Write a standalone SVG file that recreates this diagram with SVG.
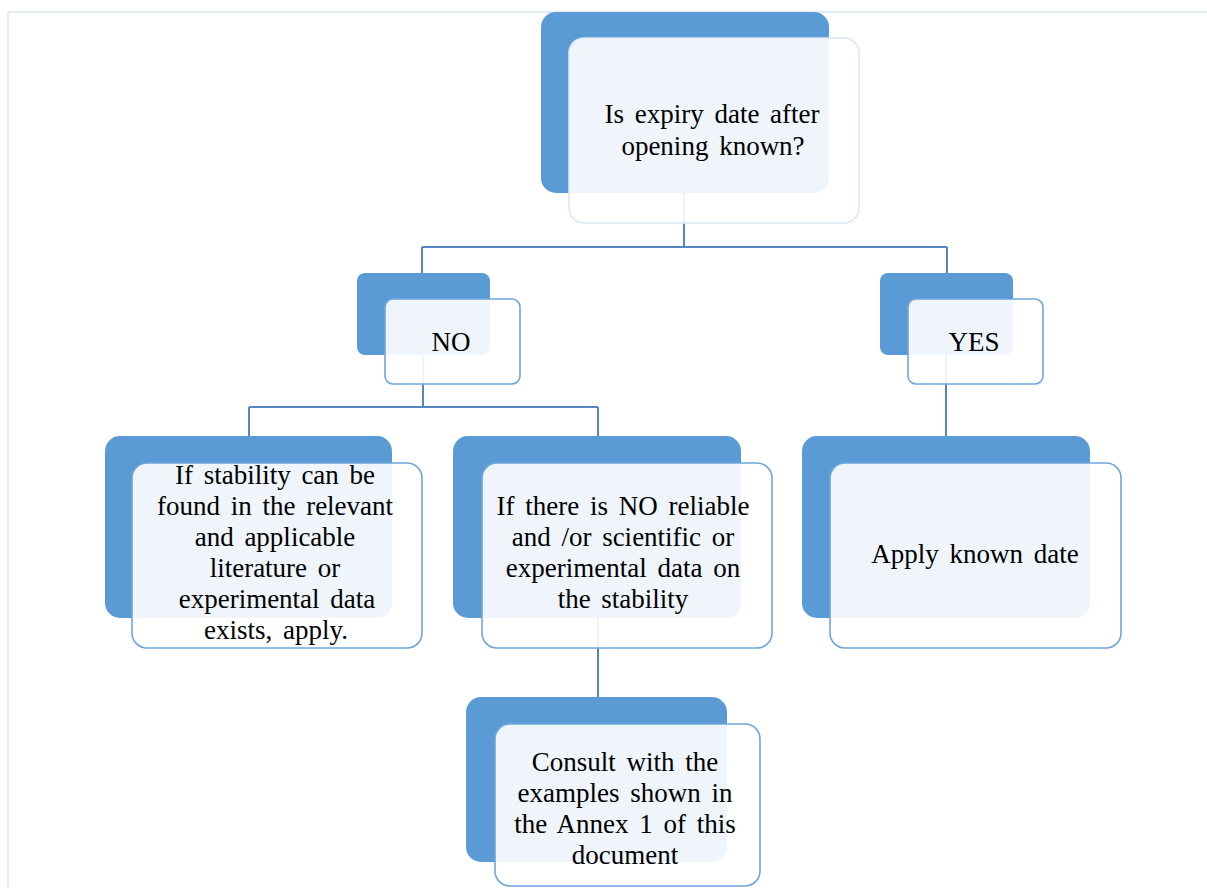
<svg xmlns="http://www.w3.org/2000/svg" width="1207" height="888" viewBox="0 0 1207 888">
<style>
.back{fill:#5B9BD5;}
.front{fill:#FFFFFF;fill-opacity:0.9;stroke:#6FA6DA;stroke-width:1.6;}
.fronttop{fill:#FFFFFF;fill-opacity:0.9;stroke:#DCE7F4;stroke-width:1.6;}
.conn{fill:none;stroke:#5786C2;stroke-width:2;}
.t{font-family:"Liberation Serif","Times New Roman",serif;font-size:27px;fill:#000000;text-anchor:middle;word-spacing:4px;}
.frame{fill:none;stroke:#E2ECF7;stroke-width:2;}
</style>
<rect width="1207" height="888" fill="#FFFFFF"/>
<path class="frame" d="M8,888 L8,12 L1207,12"/>
<g id="connectors">
<path class="conn" d="M684,193 L684,247 M422,247 L947,247 M422,247 L422,273 M947,247 L947,273"/>
<path class="conn" d="M423,355 L423,407 M249,407 L598,407 M249,407 L249,436 M598,407 L598,436"/>
<path class="conn" d="M946,355 L946,436"/>
<path class="conn" d="M598,618 L598,697"/>
</g>
<g id="node-question">
<rect class="back" x="541" y="12" width="288" height="181" rx="15"/>
<rect class="fronttop" x="569" y="38" width="290" height="185" rx="15"/>
<text class="t" x="712" y="123">Is expiry date after</text>
<text class="t" x="713" y="155">opening known?</text>
</g>
<g id="node-no">
<rect class="back" x="357" y="273" width="133" height="82" rx="8"/>
<rect class="front" x="385" y="299" width="135" height="85" rx="8"/>
<text class="t" x="451" y="351">NO</text>
</g>
<g id="node-yes">
<rect class="back" x="880" y="273" width="133" height="82" rx="8"/>
<rect class="front" x="908" y="299" width="135" height="85" rx="8"/>
<text class="t" x="974" y="351">YES</text>
</g>
<g id="node-stability-found">
<rect class="back" x="105" y="436" width="287" height="182" rx="15"/>
<rect class="front" x="132" y="463" width="290" height="185" rx="15"/>
<text class="t" x="275" y="484">If stability  can be</text>
<text class="t" x="275" y="515">found in the relevant</text>
<text class="t" x="275" y="546">and applicable</text>
<text class="t" x="275" y="577">literature  or</text>
<text class="t" x="277" y="608">experimental  data</text>
<text class="t" x="276" y="639">exists,  apply.</text>
</g>
<g id="node-no-data">
<rect class="back" x="453" y="436" width="288" height="182" rx="15"/>
<rect class="front" x="482" y="463" width="290" height="185" rx="15"/>
<text class="t" x="623" y="515">If there is NO reliable</text>
<text class="t" x="623" y="546">and /or scientific  or</text>
<text class="t" x="623" y="577">experimental  data on</text>
<text class="t" x="623" y="608">the stability</text>
</g>
<g id="node-consult">
<rect class="back" x="466" y="697" width="261" height="165" rx="15"/>
<rect class="front" x="495" y="724" width="265" height="162" rx="15"/>
<text class="t" x="625" y="771">Consult with the</text>
<text class="t" x="625" y="802">examples shown in</text>
<text class="t" x="625" y="833">the Annex 1 of this</text>
<text class="t" x="625" y="864">document</text>
</g>
<g id="node-apply">
<rect class="back" x="802" y="436" width="288" height="182" rx="15"/>
<rect class="front" x="830" y="463" width="291" height="185" rx="15"/>
<text class="t" x="975" y="563">Apply known date</text>
</g>
</svg>
